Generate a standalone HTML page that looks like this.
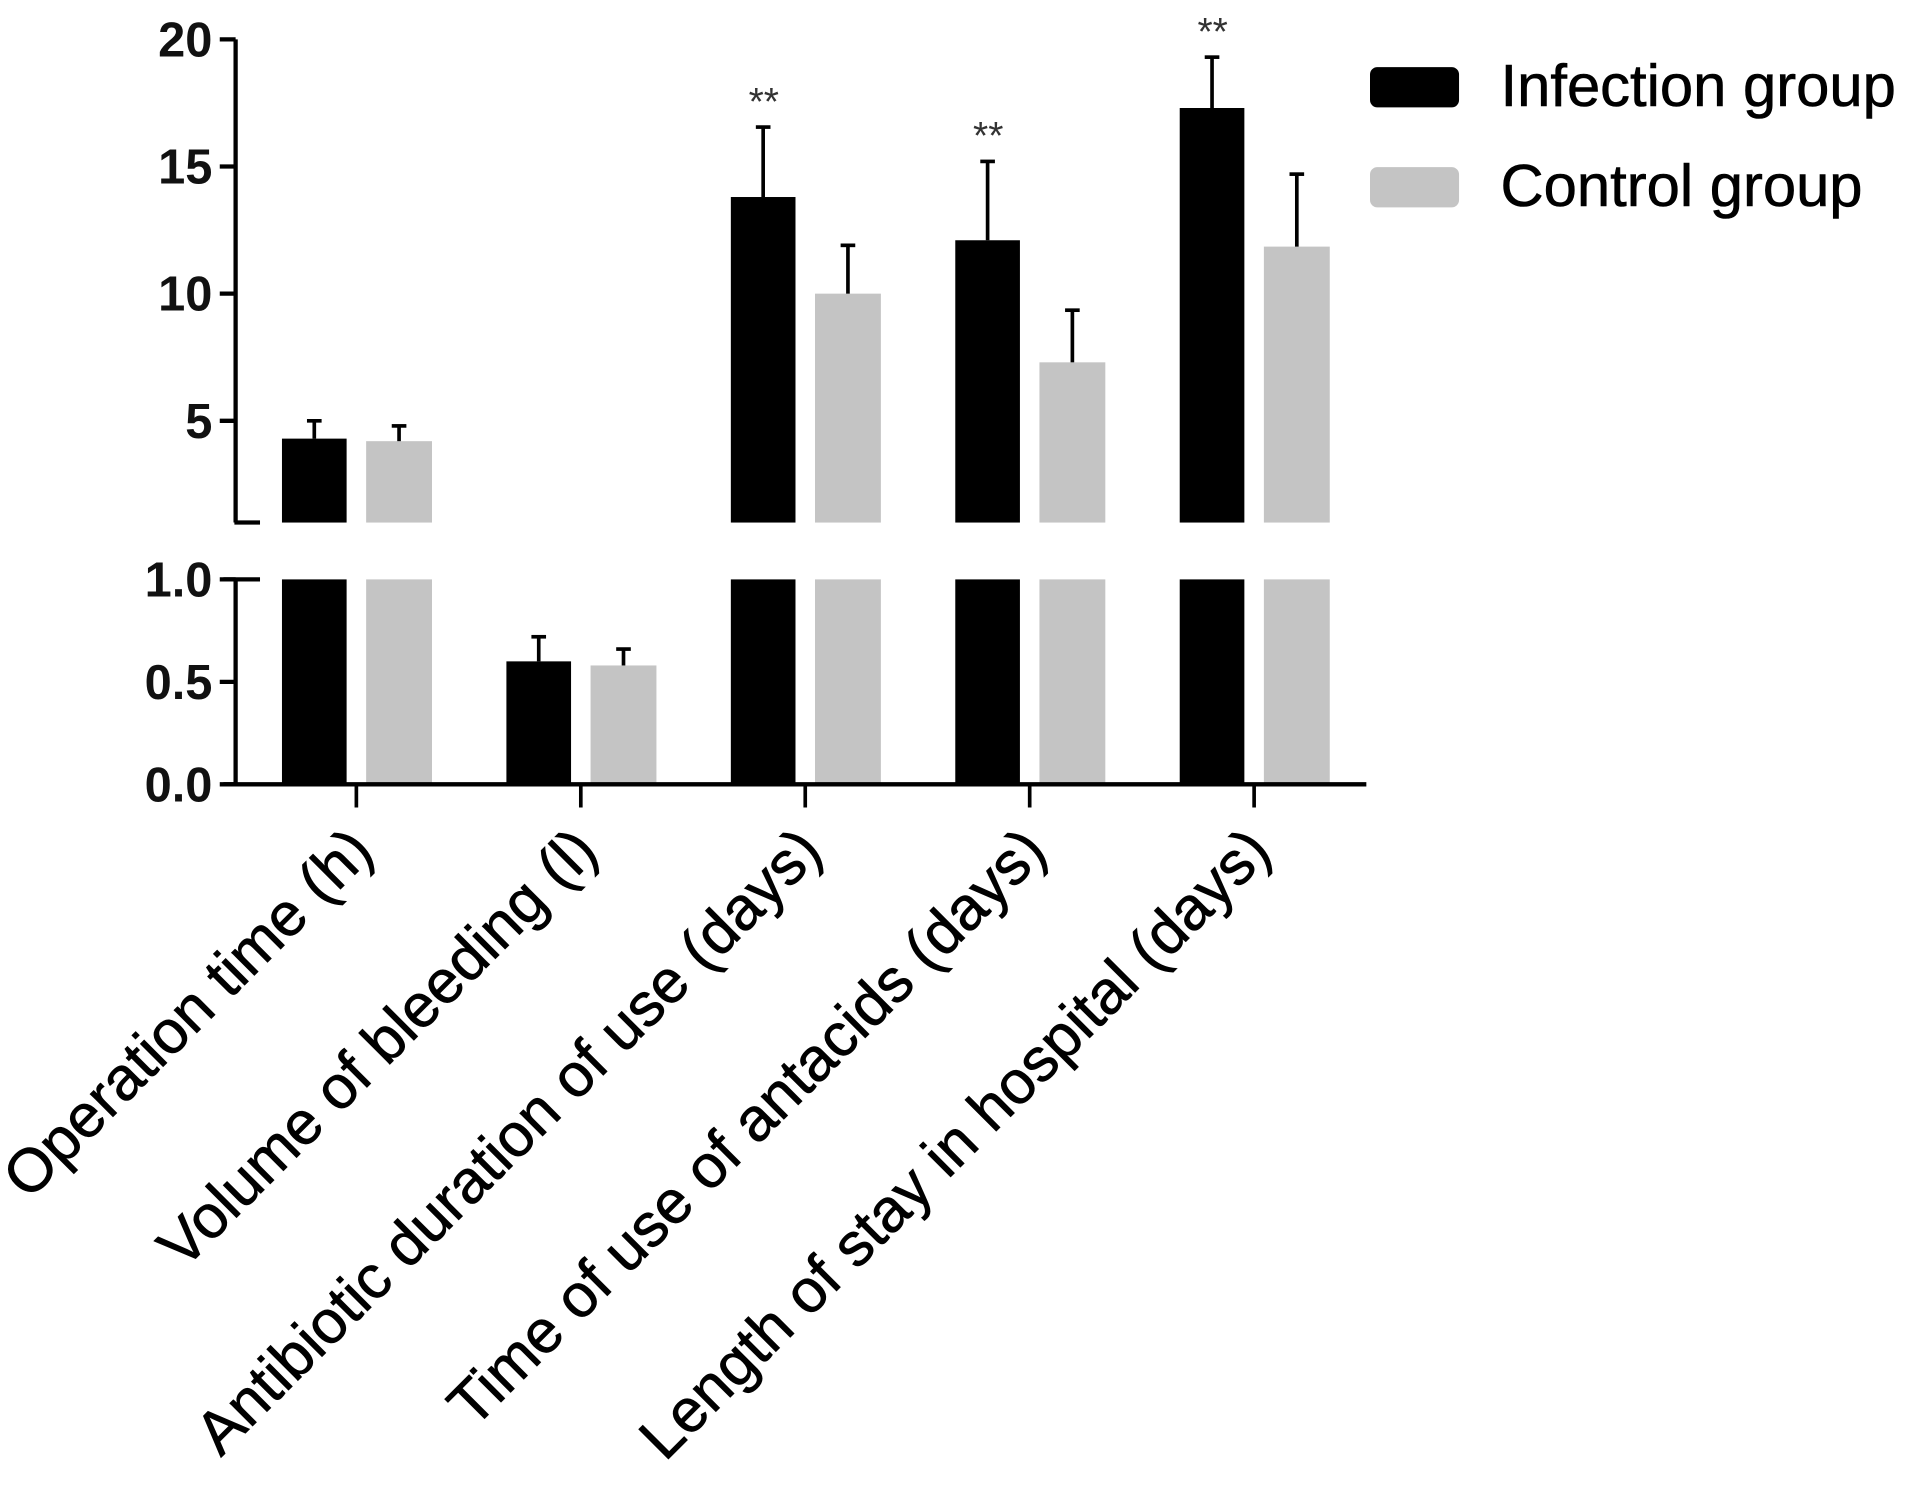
<!DOCTYPE html>
<html><head><meta charset="utf-8"><style>
html,body{margin:0;padding:0;background:#fff;}
svg{display:block;font-family:"Liberation Sans",Arial,sans-serif;}
</style></head><body>
<svg id="chart" width="1913" height="1493" viewBox="0 0 1568 1224" xmlns="http://www.w3.org/2000/svg"></svg>
<script>
const categories = ["Operation time (h)","Volume of bleeding (l)","Antibiotic duration of use (days)","Time of use of antacids (days)","Length of stay in hospital (days)"];
const infectionMean = [4.3, 0.6, 13.8, 12.1, 17.3];
const infectionErr = [0.7, 0.12, 2.75, 3.1, 2.0];
const controlMean = [4.2, 0.58, 10.0, 7.3, 11.85];
const controlErr = [0.6, 0.08, 1.9, 2.05, 2.85];
const significance = ["", "", "**", "**", "**"];
const upperTicks = [5, 10, 15, 20];
const lowerTicks = [0.0, 0.5, 1.0];

const NS = "http://www.w3.org/2000/svg";
const svg = document.getElementById("chart");
function mk(tag, attrs, parent){const e=document.createElementNS(NS,tag);for(const k in attrs)e.setAttribute(k,attrs[k]);(parent||svg).appendChild(e);return e;}
const yUp = v => 345 - (v - 5) * 20.85;
const yLo = v => 643 - v * 168;
const upperMin = 1, upperTop = yUp(upperMin);
const lowerMax = 1;
const xC = i => 292 + i * 184;

function drawBar(i, val, err, color, offL, offR, name){
  const x0 = xC(i) + offL, w = offR - offL;
  const lv = Math.min(val, lowerMax);
  const r1 = mk("rect",{x:x0,y:yLo(lv),width:w,height:yLo(0)-yLo(lv),fill:color});
  
  
  if (val > upperMin) {
    const r2 = mk("rect",{x:x0,y:yUp(val),width:w,height:upperTop-yUp(val),fill:color});
    
    
  }
  const ys = val > upperMin ? yUp : yLo;
  const cx = x0 + w/2;
  const g = mk("g",{stroke:"#000","stroke-width":3});
  
  
  mk("line",{x1:cx,x2:cx,y1:ys(val),y2:ys(val+err)},g);
  mk("line",{x1:cx-6,x2:cx+6,y1:ys(val+err),y2:ys(val+err)},g);
}
categories.forEach((c,i)=>{
  drawBar(i, infectionMean[i], infectionErr[i], "#000", -61, -8, "infection-bar-"+(i+1));
  drawBar(i, controlMean[i], controlErr[i], "#c4c4c4", 8, 62, "control-bar-"+(i+1));
  if (significance[i]) {
    const v = infectionMean[i] + infectionErr[i];
    const t = mk("text",{x:xC(i)-34,y:yUp(v)-10,"text-anchor":"middle","font-size":32,fill:"#333"});
    t.textContent = significance[i];
    
    
  }
  const tk = mk("line",{x1:xC(i),x2:xC(i),y1:643,y2:662,stroke:"#000","stroke-width":3});
  
  
  const lx = xC(i)+16, ly = 700;
  const lbl = mk("text",{x:lx,y:ly,"text-anchor":"end","font-size":50,fill:"#000",stroke:"#000","stroke-width":0.6,transform:`rotate(-45 ${lx} ${ly})`});
  lbl.textContent = c;
  
  
});

const ax = mk("g",{stroke:"#000","stroke-width":3.5,fill:"none"});


mk("line",{x1:193,x2:193,y1:yUp(20),y2:upperTop},ax);
mk("line",{x1:192,x2:213,y1:upperTop,y2:upperTop},ax);
mk("line",{x1:193,x2:193,y1:yLo(1),y2:yLo(0)},ax);
mk("line",{x1:183,x2:213,y1:yLo(1),y2:yLo(1)},ax);
const xa = mk("line",{x1:183,x2:1120,y1:643,y2:643,stroke:"#000","stroke-width":3.5});


upperTicks.forEach(v=>{
  mk("line",{x1:180,x2:193,y1:yUp(v),y2:yUp(v),stroke:"#000","stroke-width":3.5});
  const t = mk("text",{x:174,y:yUp(v)+14,"text-anchor":"end","font-size":40,"font-weight":"bold",fill:"#111"});
  t.textContent = v;
  
  
});
lowerTicks.forEach(v=>{
  mk("line",{x1:180,x2:193,y1:yLo(v),y2:yLo(v),stroke:"#000","stroke-width":3.5});
  const t = mk("text",{x:174,y:yLo(v)+14,"text-anchor":"end","font-size":40,"font-weight":"bold",fill:"#111"});
  t.textContent = v.toFixed(1);
  
  
});

const lg = mk("g",{});


const le1 = mk("rect",{x:1123,y:55,width:73,height:33,rx:6,fill:"#000"},lg);


const lt1 = mk("text",{x:1230,y:87,"font-size":49,fill:"#000",stroke:"#000","stroke-width":0.5},lg);
lt1.textContent = "Infection group";


const le2 = mk("rect",{x:1123,y:137,width:73,height:33,rx:6,fill:"#c4c4c4"},lg);


const lt2 = mk("text",{x:1230,y:169,"font-size":49,fill:"#000",stroke:"#000","stroke-width":0.5},lg);
lt2.textContent = "Control group";


</script>
</body></html>
